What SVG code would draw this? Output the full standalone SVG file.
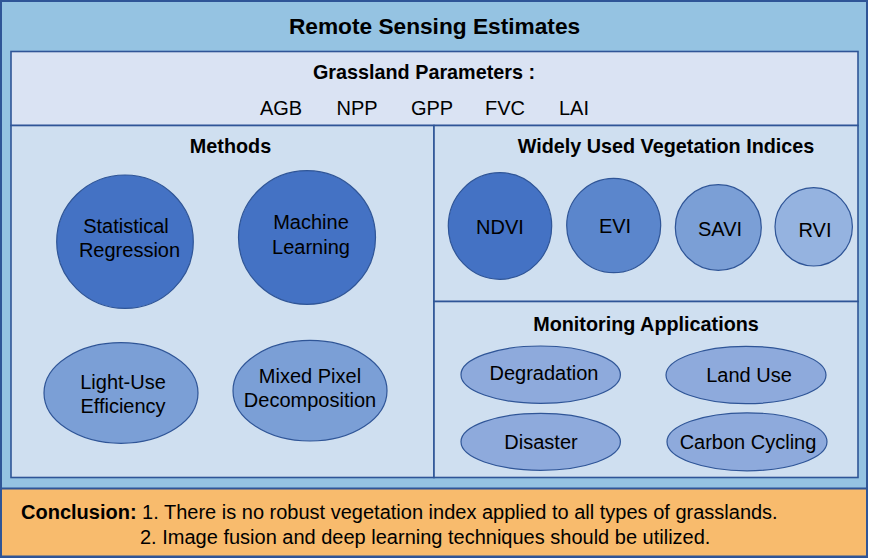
<svg xmlns="http://www.w3.org/2000/svg" width="869" height="559" viewBox="0 0 869 559">
<style>
text{font-family:"Liberation Sans",Arial,sans-serif;fill:#000;text-anchor:middle}
.h{font-weight:bold;font-size:19.8px}
.t{font-size:20px}
.box{stroke:#2f5597;stroke-width:1.6}
.el{stroke:#2f5597;stroke-width:1.2}
.d{fill:#4472c4}
.m{fill:#5b86cc}
.l{fill:#7b9fd6}
.p{fill:#95b3e0}
.a{fill:#8eaadc}
</style>
<g id="frame">
<rect x="1" y="1" width="866" height="556" fill="#95c3e2" stroke="#2f5597" stroke-width="2"/>
<text x="434.5" y="34" style="font-weight:bold;font-size:22.7px">Remote Sensing Estimates</text>
</g>
<g id="grassland">
<rect class="box" x="11" y="51.5" width="847" height="74" fill="#dae3f3"/>
<text class="h" x="424" y="79">Grassland Parameters :</text>
<text class="t" x="281" y="115">AGB</text>
<text class="t" x="357" y="115">NPP</text>
<text class="t" x="432" y="115">GPP</text>
<text class="t" x="505" y="115">FVC</text>
<text class="t" x="574" y="115">LAI</text>
</g>
<g id="methods">
<rect class="box" x="11" y="125.5" width="423" height="352" fill="#cfdff0"/>
<text class="h" x="230.5" y="153">Methods</text>
</g>
<g id="indices">
<rect class="box" x="434" y="125.5" width="424" height="176" fill="#cfdff0"/>
<text class="h" x="666" y="153">Widely Used Vegetation Indices</text>
</g>
<g id="applications">
<rect class="box" x="434" y="301.5" width="424" height="176" fill="#cfdff0"/>
<text class="h" x="646" y="331">Monitoring Applications</text>
</g>
<g id="statistical-regression">
<ellipse class="el d" cx="125" cy="241.7" rx="68.3" ry="66.7"/>
<text class="t" x="126" y="233">Statistical</text>
<text class="t" x="129.5" y="257">Regression</text>
</g>
<g id="machine-learning">
<ellipse class="el d" cx="307" cy="237.5" rx="68.5" ry="66.8"/>
<text class="t" x="311" y="229">Machine</text>
<text class="t" x="311" y="253.5">Learning</text>
</g>
<g id="light-use-efficiency">
<ellipse class="el l" cx="121" cy="393" rx="77" ry="50.3"/>
<text class="t" x="123" y="388.5">Light-Use</text>
<text class="t" x="123" y="412.5">Efficiency</text>
</g>
<g id="mixed-pixel-decomposition">
<ellipse class="el l" cx="310" cy="390.7" rx="77" ry="50.3"/>
<text class="t" x="310" y="382.5">Mixed Pixel</text>
<text class="t" x="310" y="407">Decomposition</text>
</g>
<g id="ndvi">
<ellipse class="el d" cx="500" cy="226" rx="51.7" ry="53.3"/>
<text class="t" x="500" y="233.5">NDVI</text>
</g>
<g id="evi">
<ellipse class="el m" cx="613.7" cy="225.5" rx="47" ry="47.2"/>
<text class="t" x="615" y="232.5">EVI</text>
</g>
<g id="savi">
<ellipse class="el l" cx="718.3" cy="227.5" rx="43" ry="42.8"/>
<text class="t" x="720" y="235.5">SAVI</text>
</g>
<g id="rvi">
<ellipse class="el p" cx="813.7" cy="226.8" rx="38.7" ry="39.2"/>
<text class="t" x="815" y="237">RVI</text>
</g>
<g id="degradation">
<ellipse class="el a" cx="540.7" cy="374.7" rx="79.7" ry="28.7"/>
<text class="t" x="544" y="380">Degradation</text>
</g>
<g id="land-use">
<ellipse class="el a" cx="746" cy="375" rx="80" ry="28.7"/>
<text class="t" x="749" y="382">Land Use</text>
</g>
<g id="disaster">
<ellipse class="el a" cx="540.7" cy="441.8" rx="79.7" ry="28.5"/>
<text class="t" x="541" y="448.5">Disaster</text>
</g>
<g id="carbon-cycling">
<ellipse class="el a" cx="747" cy="441.8" rx="80" ry="29"/>
<text class="t" x="748" y="448.5">Carbon Cycling</text>
</g>
<g id="conclusion">
<rect x="1" y="488.5" width="866" height="68" fill="#f8bb6d" stroke="#2f5597" stroke-width="2"/>
<text x="21" y="518.5" style="text-anchor:start;font-size:20px"><tspan font-weight="bold">Conclusion:</tspan> 1. There is no robust vegetation index applied to all types of grasslands.</text>
<text x="140" y="543.5" style="text-anchor:start;font-size:20px">2. Image fusion and deep learning techniques should be utilized.</text>
</g>
<g id="connectors"/>
</svg>
